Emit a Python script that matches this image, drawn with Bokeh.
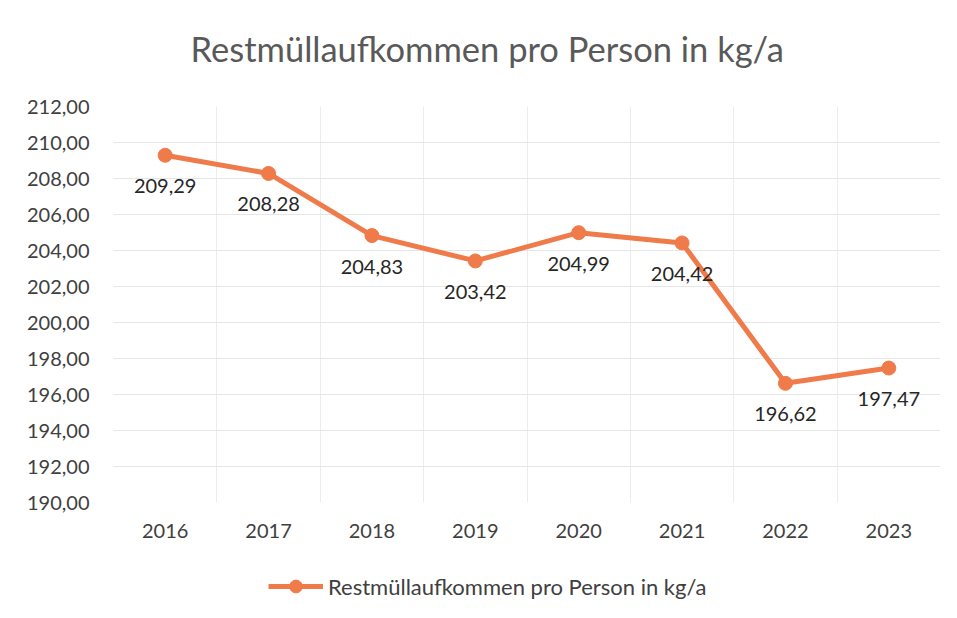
from bokeh.plotting import figure
from bokeh.layouts import column
from bokeh.models import FixedTicker, Legend, LegendItem, ColumnDataSource, Title
from bokeh.core.properties import value
from bokeh.embed import file_html
from bokeh.resources import INLINE

title_text = "Restmüllaufkommen pro Person in kg/a"
series_name = "Restmüllaufkommen pro Person in kg/a"
years = ["2016", "2017", "2018", "2019", "2020", "2021", "2022", "2023"]
values = [209.29, 208.28, 204.83, 203.42, 204.99, 204.42, 196.62, 197.47]
y_ticks = [190, 192, 194, 196, 198, 200, 202, 204, 206, 208, 210, 212]

FONT = "Lato"
ORANGE = "#EF7B4B"

xs = list(range(len(years)))
labels = [f"{v:.2f}".replace(".", ",") for v in values]
src = ColumnDataSource(dict(x=xs, y=values, lab=labels))

p = figure(width=948, height=562, output_backend="svg", toolbar_location=None,
           x_range=(-0.5, len(years) - 0.5), y_range=(190, 212),
           min_border_left=113, min_border_right=8, min_border_top=106, min_border_bottom=60)
p.outline_line_color = None
p.background_fill_color = "white"

p.title.text = title_text
p.title.align = "left"
p.title.vertical_align = "middle"
p.title.offset = 77
p.title.standoff = 20
p.title.text_font = FONT
p.title.text_font_style = "normal"
p.title.text_font_size = "34.5px"
p.title.text_color = "#595959"
# small blank spacer between the title and the plot area
p.add_layout(Title(text=" ", text_font_size="1px", standoff=24), "above")

# axes
p.xaxis.ticker = FixedTicker(ticks=xs)
p.xaxis.major_label_overrides = {i: y for i, y in enumerate(years)}
p.yaxis.ticker = FixedTicker(ticks=y_ticks)
p.yaxis.major_label_overrides = {t: f"{t:.2f}".replace(".", ",") for t in y_ticks}
for ax in (p.xaxis, p.yaxis):
    ax.axis_line_color = None
    ax.major_tick_line_color = None
    ax.minor_tick_line_color = None
    ax.major_label_text_font = FONT
    ax.major_label_text_font_size = "20px"
    ax.major_label_text_color = "#404040"
p.yaxis.major_label_standoff = 18
p.xaxis.major_label_standoff = 15

p.xgrid.ticker = FixedTicker(ticks=[i - 0.5 for i in range(len(years) + 1)])
p.xgrid.grid_line_color = "#ececec"
p.ygrid.grid_line_color = "#e6e6e6"

line_r = p.line("x", "y", source=src, line_color=ORANGE, line_width=5)
pt_r = p.scatter("x", "y", source=src, size=14, fill_color=ORANGE, line_color=ORANGE)

p.text("x", "y", text="lab", source=src, y_offset=31, text_align="center",
       text_baseline="middle", text_font=value(FONT), text_font_size="20px",
       text_color="#262626")

# legend strip below the chart (its renderers use the same data, outside this strip's ranges)
p2 = figure(width=948, height=56, output_backend="svg", toolbar_location=None,
            x_range=(100, 101), y_range=(0, 1), x_axis_type=None, y_axis_type=None,
            min_border=0)
p2.outline_line_color = None
p2.xgrid.visible = False
p2.ygrid.visible = False
lg_line = p2.line("x", "y", source=src, line_color=ORANGE, line_width=5)
lg_pt = p2.scatter("x", "y", source=src, size=13, fill_color=ORANGE, line_color=ORANGE)
legend = Legend(items=[LegendItem(label=series_name, renderers=[lg_line, lg_pt])],
                orientation="horizontal", location=(155, 16), glyph_width=55, glyph_height=32,
                label_text_font=FONT, label_text_font_size="22px", label_text_color="#404040",
                border_line_color=None, background_fill_alpha=0, padding=0, margin=0,
                label_standoff=5)
p2.add_layout(legend)

open("out.html", "w").write(file_html(column(p, p2, spacing=0), INLINE))
